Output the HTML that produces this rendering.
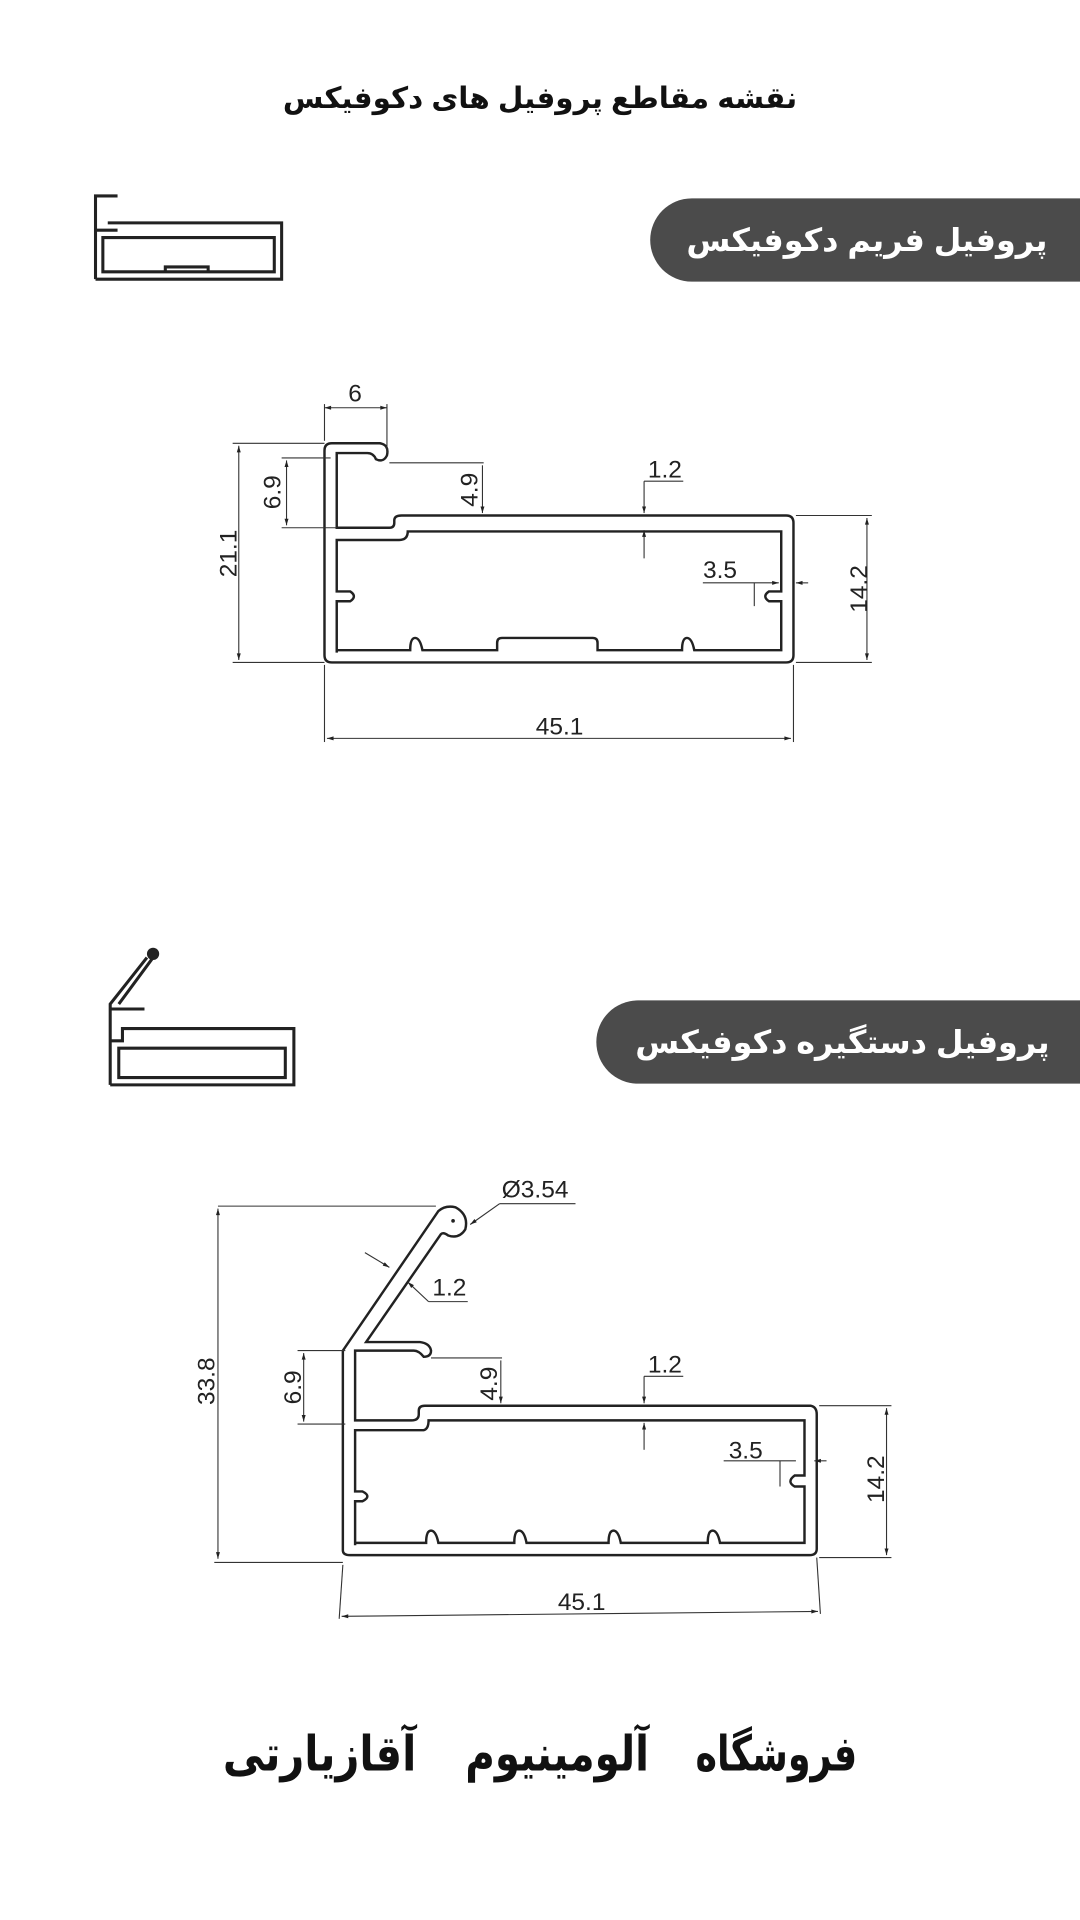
<!DOCTYPE html>
<html><head><meta charset="utf-8"><style>
html,body{margin:0;padding:0;background:#fff;width:1080px;height:1920px;overflow:hidden}
svg{display:block}
.t{font-family:"Liberation Sans",sans-serif;fill:#222}
.fa{font-family:"Liberation Sans","Noto Sans CJK SC","DejaVu Sans",sans-serif;font-weight:bold}
</style></head><body>
<svg width="1080" height="1920" viewBox="0 0 882 1568" xmlns="http://www.w3.org/2000/svg">
<defs>
<marker id="a" viewBox="0 0 10 10" refX="10" refY="5" markerWidth="8" markerHeight="6" orient="auto-start-reverse"><path d="M0,2 L10,5 L0,8z" fill="#222"/></marker>
</defs>
<text x="441" y="88" text-anchor="middle" class="fa" font-size="24" fill="#111" direction="rtl">نقشه مقاطع پروفیل های دکوفیکس</text>

<!-- pill 1 -->
<path d="M565,162 H882 V230 H565 A34,34 0 0 1 565,162z" fill="#4b4b4b"/>
<text x="708" y="205" text-anchor="middle" class="fa" font-size="26" fill="#fff" direction="rtl">پروفیل فریم دکوفیکس</text>
<!-- pill 2 -->
<path d="M521,817 H882 V885 H521 A34,34 0 0 1 521,817z" fill="#4b4b4b"/>
<text x="688" y="860" text-anchor="middle" class="fa" font-size="26" fill="#fff" direction="rtl">پروفیل دستگیره دکوفیکس</text>

<!-- thumbnail 1 -->
<g fill="none" stroke="#222" stroke-width="2.5">
<path d="M78,228 V160 H96 M78,188 H96 M88,182 H230 V228 H78 M84,194 H224 V222 H84 Z"/>
<path d="M135,222 V218 H170 V222" />
</g>
<!-- thumbnail 2 -->
<g fill="none" stroke="#222" stroke-width="2.5">
<path d="M90,886 V820 L120,782 M97,820 L125,782 M90,824 H118"/>
<path d="M90,850 H100 V840 H240 V886 H90"/>
<path d="M97,856 H233 V880 H97 Z"/>
</g>
<circle cx="125" cy="779" r="5" fill="#222"/>

<!-- Top drawing -->
<g fill="none" stroke="#222" stroke-width="2">
<path d="M265,535 V368 Q265,362 271,362 H310 Q318,363 316,372 Q313,378 307,375 Q305,370 300,370 H275 V431 H318 Q322,431 322,427 V425 Q322,421 328,421 H642 Q648,421 648,427 V535 Q648,541 642,541 H271 Q265,541 265,535 Z"/>
<path d="M275,533 V491 H286 Q292,487 286,483 H275 V441 H326 Q333,441 333,434 H638 V483 H628 Q622,487 628,491 H638 V531 H567 Q565,521 561,521 Q557,521 557,531 H488 V525 Q488,521 484,521 H410 Q406,521 406,525 V531 H345 Q343,521 339,521 Q335,521 335,531 H275"/>
</g>
<g stroke="#333" stroke-width="0.9" fill="none">
<line x1="265" y1="360" x2="265" y2="330"/><line x1="316" y1="370" x2="316" y2="330"/>
<line x1="265" y1="333" x2="316" y2="333" marker-start="url(#a)" marker-end="url(#a)"/>
<line x1="190" y1="362" x2="265" y2="362"/><line x1="190" y1="541" x2="265" y2="541"/>
<line x1="195" y1="364" x2="195" y2="539" marker-start="url(#a)" marker-end="url(#a)"/>
<line x1="230" y1="374" x2="270" y2="374"/><line x1="230" y1="431" x2="275" y2="431"/>
<line x1="234" y1="376" x2="234" y2="429" marker-start="url(#a)" marker-end="url(#a)"/>
<line x1="318" y1="378" x2="395" y2="378"/><line x1="394" y1="380" x2="394" y2="419" marker-end="url(#a)"/>
<line x1="526" y1="393" x2="558" y2="393"/><line x1="526" y1="393" x2="526" y2="419" marker-end="url(#a)"/>
<line x1="526" y1="456" x2="526" y2="433" marker-end="url(#a)"/>
<line x1="574" y1="476" x2="636" y2="476" marker-end="url(#a)"/><line x1="660" y1="476" x2="650" y2="476" marker-end="url(#a)"/>
<line x1="616" y1="476" x2="616" y2="495"/>
<line x1="650" y1="421" x2="712" y2="421"/><line x1="650" y1="541" x2="712" y2="541"/>
<line x1="708" y1="423" x2="708" y2="539" marker-start="url(#a)" marker-end="url(#a)"/>
<line x1="265" y1="543" x2="265" y2="606"/><line x1="648" y1="543" x2="648" y2="606"/>
<line x1="267" y1="603" x2="646" y2="603" marker-start="url(#a)" marker-end="url(#a)"/>
</g>
<g class="t" font-size="20">
<text x="290" y="328" text-anchor="middle">6</text>
<text x="543" y="390" text-anchor="middle">1.2</text>
<text x="588" y="472" text-anchor="middle">3.5</text>
<text x="457" y="600" text-anchor="middle">45.1</text>
<text transform="translate(193,452) rotate(-90)" text-anchor="middle">21.1</text>
<text transform="translate(229,402) rotate(-90)" text-anchor="middle">6.9</text>
<text transform="translate(390,400) rotate(-90)" text-anchor="middle">4.9</text>
<text transform="translate(708,481) rotate(-90)" text-anchor="middle">14.2</text>
</g>

<!-- Bottom drawing -->
<g fill="none" stroke="#222" stroke-width="2">
<path d="M280,1266 V1103 L358,989 Q364,984 372,986 Q383,992 380,1004 Q375,1012 366,1009 Q362,1006 360,1008 L299,1096 H343 Q351,1097 352,1103 Q352,1108 346,1108 Q342,1103 338,1103 H290 V1160 H336 Q342,1160 342,1155 V1152 Q342,1148 347,1148 H662 Q667,1149 667,1155 V1265 Q667,1270 661,1270 H286 Q280,1270 280,1266 Z"/>
<path d="M290,1262 V1226 H296 Q304,1222 296,1218 H290 V1168 H346 Q350,1167 350,1160 H657 V1205 H649 Q642,1210 649,1214 H657 V1260 H588 Q586,1250 582,1250 Q578,1250 578,1260 H507 Q505,1250 501,1250 Q497,1250 497,1260 H430 Q428,1250 424,1250 Q420,1250 420,1260 H358 Q356,1250 352,1250 Q348,1250 348,1260 H290"/>
</g>
<g stroke="#333" stroke-width="0.9" fill="none">
<line x1="178" y1="985" x2="356" y2="985"/><line x1="175" y1="1276" x2="280" y2="1276"/>
<line x1="178" y1="987" x2="178" y2="1273" marker-start="url(#a)" marker-end="url(#a)"/>
<line x1="243" y1="1103" x2="282" y2="1103"/><line x1="243" y1="1163" x2="282" y2="1163"/>
<line x1="248" y1="1105" x2="248" y2="1161" marker-start="url(#a)" marker-end="url(#a)"/>
<line x1="352" y1="1109" x2="410" y2="1109"/><line x1="409" y1="1111" x2="409" y2="1146" marker-end="url(#a)"/>
<line x1="526" y1="1124" x2="558" y2="1124"/><line x1="526" y1="1124" x2="526" y2="1146" marker-end="url(#a)"/>
<line x1="526" y1="1184" x2="526" y2="1162" marker-end="url(#a)"/>
<line x1="591" y1="1193" x2="650" y2="1193"/><line x1="675" y1="1193" x2="665" y2="1193" marker-end="url(#a)"/>
<line x1="637" y1="1193" x2="637" y2="1214"/>
<line x1="669" y1="1148" x2="728" y2="1148"/><line x1="669" y1="1272" x2="728" y2="1272"/>
<line x1="724" y1="1150" x2="724" y2="1270" marker-start="url(#a)" marker-end="url(#a)"/>
<line x1="280" y1="1278" x2="277" y2="1322"/><line x1="667" y1="1272" x2="670" y2="1318"/>
<line x1="279" y1="1320" x2="668" y2="1316" marker-start="url(#a)" marker-end="url(#a)"/>
<line x1="298" y1="1023" x2="318" y2="1035" marker-end="url(#a)"/>
<line x1="382" y1="1063" x2="350" y2="1063"/><line x1="350" y1="1063" x2="333" y2="1047" marker-end="url(#a)"/>
<line x1="470" y1="983" x2="408" y2="983"/><line x1="408" y1="983" x2="384" y2="1000" marker-end="url(#a)"/>
</g>
<circle cx="370" cy="997" r="1.5" fill="#222"/>
<g class="t" font-size="20">
<text x="437" y="978" text-anchor="middle">Ø3.54</text>
<text x="367" y="1058" text-anchor="middle">1.2</text>
<text x="543" y="1121" text-anchor="middle">1.2</text>
<text x="609" y="1191" text-anchor="middle">3.5</text>
<text x="475" y="1315" text-anchor="middle">45.1</text>
<text transform="translate(175,1128) rotate(-90)" text-anchor="middle">33.8</text>
<text transform="translate(246,1133) rotate(-90)" text-anchor="middle">6.9</text>
<text transform="translate(406,1130) rotate(-90)" text-anchor="middle">4.9</text>
<text transform="translate(722,1208) rotate(-90)" text-anchor="middle">14.2</text>
</g>

<g class="fa" font-size="40" fill="#111">
<text x="568" y="1446" textLength="132" lengthAdjust="spacingAndGlyphs">فروشگاه</text>
<text x="380" y="1446" textLength="150" lengthAdjust="spacingAndGlyphs">آلومینیوم</text>
<text x="182" y="1446" textLength="158" lengthAdjust="spacingAndGlyphs">آقازیارتی</text>
</g>
</svg>
</body></html>
